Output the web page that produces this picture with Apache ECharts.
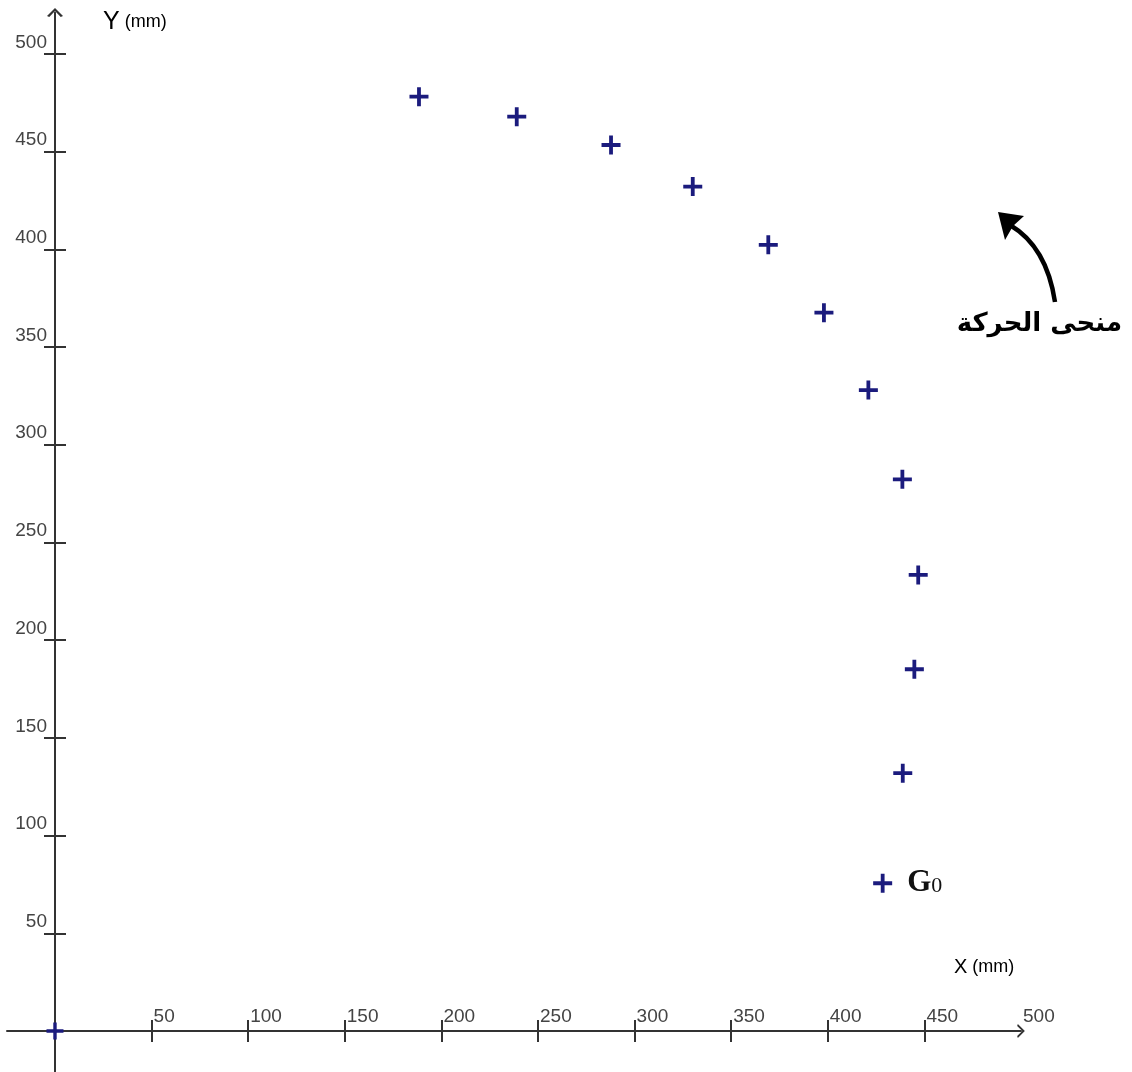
<!DOCTYPE html>
<html>
<head>
<meta charset="utf-8">
<script src="https://cdn.jsdelivr.net/npm/echarts@6/dist/echarts.min.js"></script>
<style>
  html, body { margin: 0; padding: 0; background: #fff; }
  #chart { width: 1132px; height: 1072px; }
</style>
</head>
<body>
<div id="chart"></div>
<script>
// positions of the moving point, from G0 upward (mm)
const xValues = [428.4, 438.8, 444.8, 446.8, 438.6, 421.0, 398.0, 369.2, 330.1, 287.8, 239.0, 188.4];
const yValues = [75.6, 131.9, 185.1, 233.4, 282.3, 328.0, 367.6, 402.3, 432.1, 453.4, 467.9, 478.1];
const pointLabels = ["G0", "", "", "", "", "", "", "", "", "", "", ""];
const originPoint = [0, 0];

const xTickValues = [50, 100, 150, 200, 250, 300, 350, 400, 450];
const xLabelValues = [50, 100, 150, 200, 250, 300, 350, 400, 450, 500];
const yTickValues = [50, 100, 150, 200, 250, 300, 350, 400, 450, 500];

const plusPath = "path://M0,8 L20,8 L20,12 L0,12 Z M8,0 L12,0 L12,20 L8,20 Z";
const chevron = "path://M0,10 L10,0 L20,10 L17.2,11 L10,3.6 L2.8,11 Z";
const axisColor = "#333";
const markColor = "#1b1b7d";
const labelFont = "Liberation Sans";

// grid edges in px; the axes are moved onto the zero lines with offsets
const gridLeft = 7, gridRight = 1021, gridTop = 12.5, gridBottom = 1072;
const zeroX = 55, zeroY = 1031;

const chart = echarts.init(document.getElementById("chart"));

const points = xValues.map((x, i) => {
    const item = { value: [x, yValues[i]] };
    if (pointLabels[i]) {
        item.label = {
            show: true,
            position: "right",
            distance: 15,
            formatter: "{g|G}{s|0}",
            rich: {
                g: { fontFamily: "Liberation Serif", fontWeight: "bold", fontSize: 31, color: "#111", verticalAlign: "bottom", lineHeight: 30 },
                s: { fontFamily: "Liberation Serif", fontSize: 22, color: "#111", verticalAlign: "bottom", lineHeight: 30, padding: [0, 0, 1, 0] }
            }
        };
    }
    return item;
});

const option = {
    backgroundColor: "#fff",
    animation: false,
    grid: { left: gridLeft, right: 1132 - gridRight, top: gridTop, bottom: 1072 - gridBottom, containLabel: false, outerBoundsMode: "none" },
    xAxis: [
        {
            type: "value", min: -24.84, max: 500, position: "bottom", offset: zeroY - gridBottom,
            axisLine: { onZero: false, lineStyle: { color: axisColor, width: 2 }, symbol: ["none", chevron], symbolSize: [14, 8] },
            axisTick: { show: true, length: 11, lineStyle: { color: axisColor, width: 2 }, customValues: xTickValues },
            axisLabel: { show: false },
            splitLine: { show: false }
        },
        {
            type: "value", min: -24.84, max: 500, position: "top", offset: gridTop - zeroY,
            axisLine: { show: false, onZero: false },
            axisTick: { show: true, length: 11, lineStyle: { color: axisColor, width: 2 }, customValues: xTickValues },
            axisLabel: {
                show: true, margin: 5, customValues: xLabelValues,
                align: "left", padding: [0, 0, 0, 2],
                fontFamily: labelFont, fontSize: 19, color: "#444"
            },
            splitLine: { show: false }
        }
    ],
    yAxis: [
        {
            type: "value", min: -21, max: 521.2, position: "left", offset: gridLeft - zeroX,
            axisLine: { onZero: false, lineStyle: { color: axisColor, width: 2 }, symbol: ["none", chevron], symbolSize: [16, 10] },
            axisTick: { show: true, length: 11, lineStyle: { color: axisColor, width: 2 }, customValues: yTickValues },
            axisLabel: {
                show: true, margin: 8, customValues: yTickValues,
                align: "right", verticalAlign: "bottom", padding: [0, 0, 2, 0],
                fontFamily: labelFont, fontSize: 19, color: "#444"
            },
            splitLine: { show: false }
        },
        {
            type: "value", min: -21, max: 521.2, position: "right", offset: zeroX - gridRight,
            axisLine: { show: false, onZero: false },
            axisTick: { show: true, length: 11, lineStyle: { color: axisColor, width: 2 }, customValues: yTickValues },
            axisLabel: { show: false },
            splitLine: { show: false }
        }
    ],
    series: [
        {
            name: "trajectory",
            type: "scatter",
            xAxisIndex: 0, yAxisIndex: 0,
            symbol: plusPath,
            symbolSize: 19,
            itemStyle: { color: markColor, opacity: 1 },
            data: points,
            z: 5
        },
        {
            name: "origin",
            type: "scatter",
            xAxisIndex: 0, yAxisIndex: 0,
            symbol: plusPath,
            symbolSize: 17,
            itemStyle: { color: markColor, opacity: 1 },
            data: [originPoint],
            z: 6
        }
    ],
    graphic: [
        {
            type: "text", left: 103, top: 10,
            style: {
                text: "{y|Y}{m| (mm)}",
                rich: {
                    y: { fontFamily: labelFont, fontSize: 25, color: "#2e2e8c", verticalAlign: "middle" },
                    m: { fontFamily: labelFont, fontSize: 18, color: "#444", verticalAlign: "middle" }
                }
            }
        },
        {
            type: "text", left: 954, top: 957,
            style: {
                text: "{x|X}{m| (mm)}",
                rich: {
                    x: { fontFamily: labelFont, fontSize: 20, color: "#555" },
                    m: { fontFamily: labelFont, fontSize: 18, color: "#444" }
                }
            }
        },
        {
            type: "text", right: 10, top: 311,
            style: {
                text: "منحى الحركة",
                fontFamily: "DejaVu Sans",
                fontWeight: "bold",
                fontSize: 26,
                fill: "#000"
            }
        },
        {
            type: "bezierCurve",
            shape: { x1: 1055, y1: 302, x2: 1010, y2: 225, cpx1: 1049, cpy1: 262, cpx2: 1032, cpy2: 238 },
            style: { stroke: "#000", lineWidth: 4.5, fill: null }
        },
        {
            type: "polygon",
            shape: { points: [[998, 212], [1024, 216], [1013, 226], [1005, 240]] },
            style: { fill: "#000" }
        }
    ]
};

chart.setOption(option);
</script>
</body>
</html>
